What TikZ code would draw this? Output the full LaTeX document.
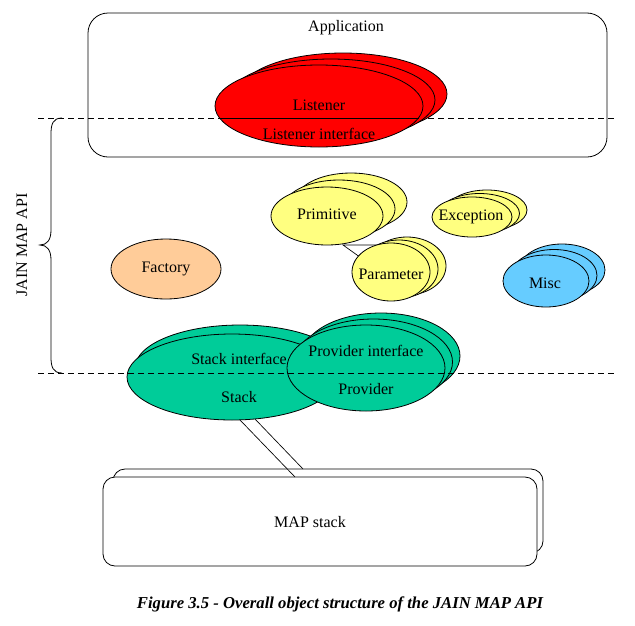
\documentclass[tikz,border=0pt]{standalone}
\usepackage{fontspec}
\setmainfont{Liberation Serif}
\usetikzlibrary{shapes.geometric}
\definecolor{cred}{RGB}{255,0,0}
\definecolor{cyel}{RGB}{255,255,128}
\definecolor{cgrn}{RGB}{0,204,153}
\definecolor{cblu}{RGB}{102,204,255}
\definecolor{corg}{RGB}{255,204,153}
\begin{document}
\begin{tikzpicture}[x=0.75pt,y=-0.75pt,line width=0.6pt,
  ell/.style n args={3}{ellipse,draw,fill=#1,inner sep=0pt,minimum width={#2*1.5pt},minimum height={#3*1.5pt}},
  box/.style 2 args={draw,fill=white,rounded corners=9pt,inner sep=0pt,minimum width={#1*0.75pt},minimum height={#2*0.75pt}},
  lbl/.style={inner sep=0pt,font=\fontsize{12}{14}\selectfont},
  sep/.style={dashed,dash pattern=on 4.5pt off 3pt},
  conn/.style={line width=0.5pt}]
\useasboundingbox (0,0) rectangle (635,625);

% Application box
\node[box={519}{144},rounded corners=15pt] (app) at (347.5,85) {};
\node[lbl] (apptxt) at (346,28) {Application};

% separator 1
\coordinate (d1l) at (38,118);
\coordinate (d1r) at (615,118);
\draw[sep] (d1l) -- (d1r);

% Listener
\node[ell={cred}{104}{41}] (lis3) at (343,94) {};
\node[ell={cred}{104}{41}] (lis2) at (331,100) {};
\node[ell={cred}{104}{41}] (lis1) at (319,106) {};
\coordinate (lc1) at (219.5,118);
\coordinate (lc2) at (418.5,118);
\draw (lc1) -- (lc2);
\node[lbl] (listxt) at (319,105) {Listener};
\node[lbl] (lisitxt) at (319,134) {Listener interface};

% Brace
\draw (62,118) .. controls (53,118) and (51,124) .. (51,134) -- (51,230)
  .. controls (51,240) and (47,245) .. (40,245)
  .. controls (47,245) and (51,250) .. (51,260) -- (51,357)
  .. controls (51,367) and (53,373) .. (62,373);
\node[lbl,rotate=90] (api) at (22,245) {JAIN MAP API};

% Primitive
\node[ell={cyel}{56}{29}] (pri3) at (351,202) {};
\node[ell={cyel}{56}{29}] (pri2) at (339,209) {};
\node[ell={cyel}{56}{29}] (pri1) at (327,216) {};
\node[lbl] (pritxt) at (327,214) {Primitive};

% Primitive -> Parameter connector
\coordinate (pj) at (343,245);
\coordinate (pa) at (386,245);
\coordinate (pb) at (364,260);
\draw[conn] (pa) -- (pj) -- (pb);

% Parameter
\node[ell={cyel}{39}{29}] (par3) at (407,266) {};
\node[ell={cyel}{39}{29}] (par2) at (399,269) {};
\node[ell={cyel}{39}{29}] (par1) at (391,272) {};
\node[lbl] (partxt) at (391,274) {Parameter};

% Exception
\node[ell={cyel}{40}{20}] (exc3) at (487,210) {};
\node[ell={cyel}{40}{20}] (exc2) at (479.5,213.5) {};
\node[ell={cyel}{40}{20}] (exc1) at (472,217) {};
\node[lbl] (exctxt) at (471,217) {Exception};

% Misc
\node[ell={cblu}{43}{26}] (mis3) at (562,270) {};
\node[ell={cblu}{43}{26}] (mis2) at (554,275.5) {};
\node[ell={cblu}{43}{26}] (mis1) at (546,281) {};
\node[lbl] (mistxt) at (545,283) {Misc};

% Factory
\node[ell={corg}{55}{30}] (fac) at (166,269) {};
\node[lbl] (factxt) at (166,269) {Factory};

% Stack
\node[ell={cgrn}{105}{43}] (stk2) at (240,368) {};
\node[ell={cgrn}{105}{43}] (stk1) at (232,377) {};

% Provider
\node[ell={cgrn}{79}{43}] (pro3) at (381,356) {};
\node[ell={cgrn}{79}{43}] (pro2) at (373.5,362) {};
\node[ell={cgrn}{79}{43}] (pro1) at (366,368) {};

% separator 2
\coordinate (d2l) at (38,373);
\coordinate (d2r) at (615,373);
\draw[sep] (d2l) -- (d2r);

\node[lbl] (stkitxt) at (239,359) {Stack interface};
\node[lbl] (stktxt) at (239,397) {Stack};
\node[lbl] (proitxt) at (366,351) {Provider interface};
\node[lbl] (protxt) at (366,389) {Provider};

% MAP stack
\node[box={430}{84}] (map2) at (328,511) {};
\node[box={434}{89}] (map1) at (320,521.5) {};
\node[lbl] (maptxt) at (310,522) {MAP stack};

% Stack -> MAP stack connector
\coordinate (c1a) at (240,420);
\coordinate (c1b) at (295,477);
\coordinate (c2a) at (255,419);
\coordinate (c2b) at (303,469);
\draw[conn] (c1a) -- (c1b);
\draw[conn] (c2a) -- (c2b);

% Caption
\node[inner sep=0pt,font=\fontsize{12.5}{14}\selectfont\bfseries\itshape] (cap) at (340,604)
  {Figure 3.5 - Overall object structure of the JAIN MAP API};
\end{tikzpicture}
\end{document}
